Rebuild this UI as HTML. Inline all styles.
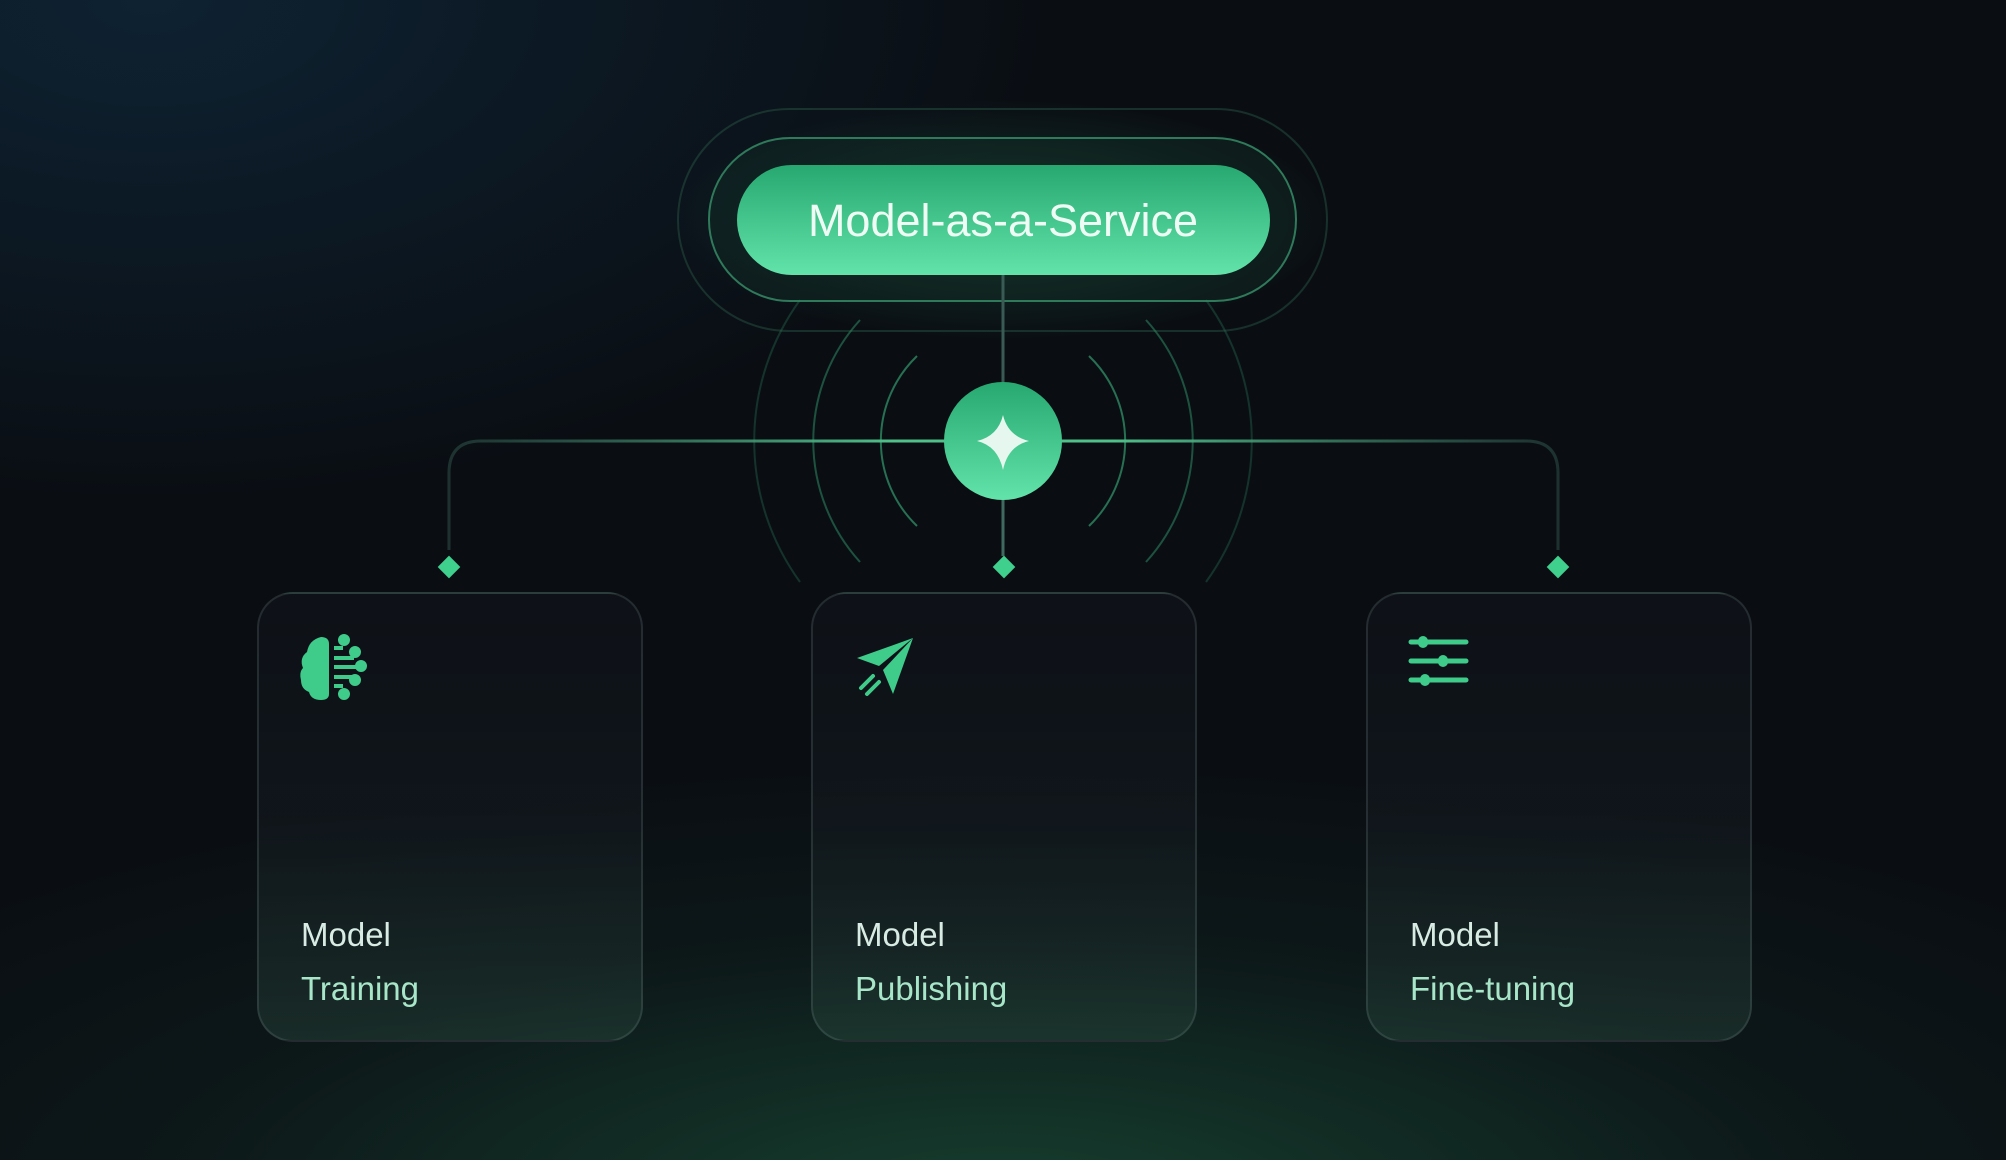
<!DOCTYPE html>
<html><head><meta charset="utf-8"><style>
html,body{margin:0;padding:0;}
body{width:2006px;height:1160px;overflow:hidden;position:relative;font-family:"Liberation Sans",sans-serif;
background:
radial-gradient(ellipse 1400px 440px at 1000px 1200px, rgba(30,95,65,0.6), rgba(20,50,40,0.25) 60%, transparent 100%),
radial-gradient(ellipse 900px 500px at 150px 0px, #0e2232, transparent 100%),
#0a0e13;}
.card{position:absolute;top:592px;width:386px;height:450px;border-radius:36px;border:2px solid rgba(120,140,140,0.22);
background:linear-gradient(180deg,rgba(14,18,24,0.9) 0%,rgba(20,26,32,0.6) 50%,rgba(40,70,60,0.45) 100%);box-sizing:border-box;}
.card .t{position:absolute;left:42px;top:314px;font-size:33px;line-height:54px;color:#d8ece4;}
.card .t span{color:#a8e6c9}
.card svg{position:absolute;left:40px;top:40px;}
</style></head><body>
<svg width="2006" height="1160" style="position:absolute;left:0;top:0">
<defs>
<linearGradient id="g" x1="0" y1="0" x2="0" y2="1"><stop offset="0" stop-color="#27a870"/><stop offset="1" stop-color="#62e3aa"/></linearGradient>
<linearGradient id="hl" x1="0" x2="1"><stop offset="0" stop-color="#2a4a44" stop-opacity="0.6"/><stop offset="0.4" stop-color="#4fc08a"/><stop offset="0.6" stop-color="#4fc08a"/><stop offset="1" stop-color="#2a4a44" stop-opacity="0.6"/></linearGradient>
<radialGradient id="glow"><stop offset="0" stop-color="#2fae78" stop-opacity="0.25"/><stop offset="1" stop-color="#2fae78" stop-opacity="0"/></radialGradient>
</defs>
<ellipse cx="1003" cy="220" rx="330" ry="120" fill="url(#glow)"/>
<rect x="678" y="109" width="649" height="222" rx="111" fill="none" stroke="#2a5a48" stroke-opacity="0.45" stroke-width="2"/>
<rect x="709" y="138" width="587" height="163" rx="81" fill="rgba(20,50,40,0.35)" stroke="#2f7a5a" stroke-width="2"/>
<line x1="1003" y1="275" x2="1003" y2="390" stroke="#3a5a55" stroke-width="3"/>
<g fill="none" stroke="#2e8a63" stroke-width="2">
<path d="M 917 356 A 118 118 0 0 0 917 526" stroke-opacity="0.8"/>
<path d="M 1089 356 A 118 118 0 0 1 1089 526" stroke-opacity="0.8"/>
<path d="M 860 320 A 180 180 0 0 0 860 562" stroke-opacity="0.55"/>
<path d="M 1146 320 A 180 180 0 0 1 1146 562" stroke-opacity="0.55"/>
<path d="M 800 300 A 240 240 0 0 0 800 582" stroke-opacity="0.3"/>
<path d="M 1206 300 A 240 240 0 0 1 1206 582" stroke-opacity="0.3"/>
</g>
<path d="M 449 550 L 449 473 Q 449 441 481 441 L 1526 441 Q 1558 441 1558 473 L 1558 550" fill="none" stroke="url(#hl)" stroke-width="3"/>
<line x1="1003" y1="480" x2="1003" y2="556" stroke="#3f6a60" stroke-width="3"/>
<circle cx="1003" cy="441" r="59" fill="url(#g)"/>
<path d="M1003 415 Q1008 436 1029 441 Q1008 446 1003 470 Q998 446 977 441 Q998 436 1003 415 Z" fill="#e6f7ef"/>
<rect x="737" y="165" width="533" height="110" rx="55" fill="url(#g)"/>
<text x="1003" y="236" text-anchor="middle" font-family="Liberation Sans, sans-serif" font-size="45" fill="#eefcf5">Model-as-a-Service</text>
<g fill="#3fd08e">
<rect x="441" y="559" width="16" height="16" transform="rotate(45 449 567)"/>
<rect x="996" y="559" width="16" height="16" transform="rotate(45 1004 567)"/>
<rect x="1550" y="559" width="16" height="16" transform="rotate(45 1558 567)"/>
</g>
</svg>
<div class="card" style="left:257px">
<svg width="70" height="70" viewBox="0 0 70 70"><g fill="#3fcb8a"><path d="M22 3 Q30 3 30 10 L30 60 Q30 66 22 66 Q12 66 10 58 Q2 55 2 46 Q0 38 4 34 Q0 24 8 18 Q10 6 22 3Z"/></g><g stroke="#3fcb8a" stroke-width="4" fill="#3fcb8a"><line x1="35" y1="14" x2="44" y2="14"/><circle cx="45" cy="6" r="4"/><line x1="35" y1="24" x2="55" y2="24"/><circle cx="56" cy="18" r="4"/><line x1="35" y1="33" x2="62" y2="33"/><circle cx="62" cy="32" r="4"/><line x1="35" y1="43" x2="55" y2="43"/><circle cx="56" cy="46" r="4"/><line x1="35" y1="52" x2="44" y2="52"/><circle cx="45" cy="60" r="4"/></g></svg>
<div class="t">Model<br><span>Training</span></div></div>
<div class="card" style="left:811px">
<svg width="70" height="70" viewBox="0 0 70 70"><path d="M60 4 L4 24 L26 32 Z M60 4 L30 36 L40 60 Z" fill="#3fcb8a"/><g stroke="#3fcb8a" stroke-width="4" stroke-linecap="round"><line x1="20" y1="42" x2="8" y2="54"/><line x1="26" y1="48" x2="14" y2="60"/></g></svg>
<div class="t">Model<br><span>Publishing</span></div></div>
<div class="card" style="left:1366px">
<svg width="70" height="70" viewBox="0 0 70 70"><g stroke="#3fcb8a" stroke-width="5" stroke-linecap="round" fill="#3fcb8a"><line x1="3" y1="8" x2="58" y2="8"/><rect x="10" y="2" width="10" height="12" rx="5" stroke="none"/><line x1="3" y1="27" x2="58" y2="27"/><rect x="30" y="21" width="10" height="12" rx="5" stroke="none"/><line x1="3" y1="46" x2="58" y2="46"/><rect x="12" y="40" width="10" height="12" rx="5" stroke="none"/></g></svg>
<div class="t">Model<br><span>Fine-tuning</span></div></div>
</body></html>
